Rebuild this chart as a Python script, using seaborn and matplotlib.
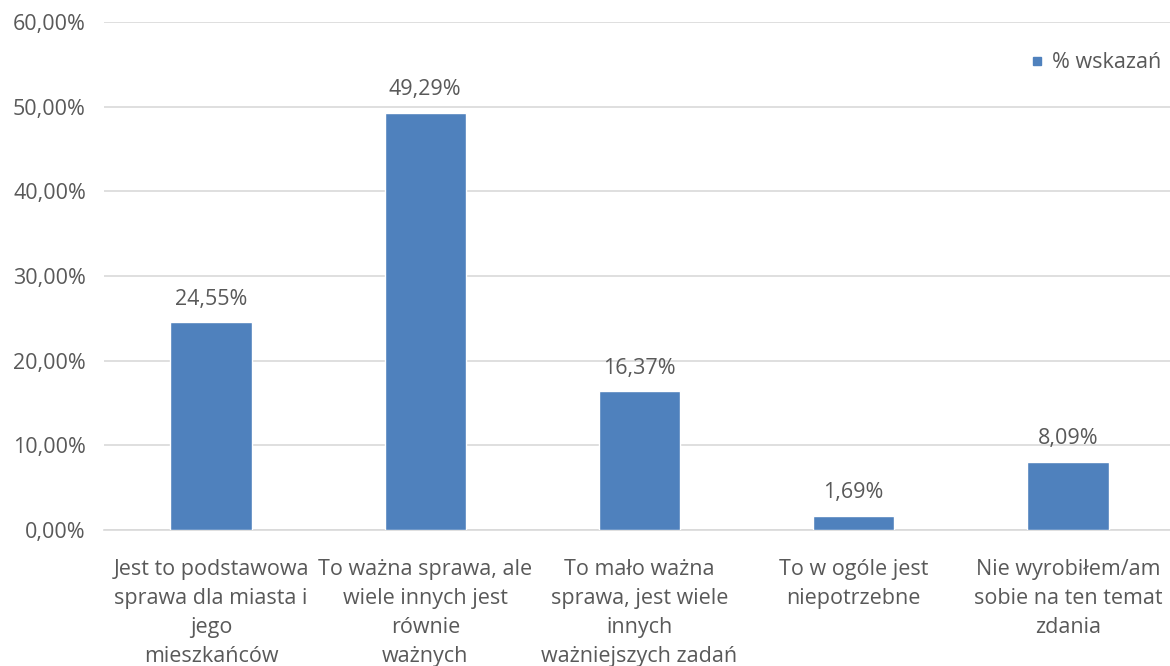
import matplotlib
matplotlib.use("Agg")
import matplotlib.pyplot as plt
from matplotlib.lines import Line2D
import seaborn as sns
import pandas as pd

# Survey answers and share of responses (%)
categories = [
    "Jest to podstawowa\nsprawa dla miasta i\njego\nmieszkańców",
    "To ważna sprawa, ale\nwiele innych jest\nrównie\nważnych",
    "To mało ważna\nsprawa, jest wiele\ninnych\nważniejszych zadań",
    "To w ogóle jest\nniepotrzebne",
    "Nie wyrobiłem/am\nsobie na ten temat\nzdania",
]
values = [24.55, 49.29, 16.37, 1.69, 8.09]
series_name = "% wskazań"
y_ticks = [0, 10, 20, 30, 40, 50, 60]

BAR = "#4f81bd"
TEXT = "#595959"
GRID = "#d9d9d9"
FS = 15.5

sns.set_theme(style="white")
plt.rcParams["font.family"] = ["Open Sans", "DejaVu Sans"]

df = pd.DataFrame({"cat": categories, "val": values})

fig = plt.figure(figsize=(11.7, 6.66), dpi=100)
ax = fig.add_axes([104 / 1170, 1 - 530 / 666, 1071 / 1170, (530 - 22) / 666])

sns.barplot(data=df, x="cat", y="val", color=BAR, width=0.38,
            saturation=1, ax=ax, zorder=3)

ax.set_ylim(0, 60)
ax.set_xlim(-0.5, len(categories) - 0.5)
ax.set_yticks(y_ticks)
ax.set_yticklabels([f"{t:.2f}".replace(".", ",") + "%" for t in y_ticks],
                   fontsize=FS, color=TEXT)
ax.yaxis.grid(True, color=GRID, linewidth=1.2, zorder=0)
ax.set_axisbelow(True)
ax.tick_params(axis="y", length=0, pad=13)

# category separators as tick marks below the axis
ax.set_xticks([i - 0.5 for i in range(len(categories) + 1)], minor=True)
ax.set_xticks(range(len(categories)))
ax.set_xticklabels(categories, fontsize=FS, color=TEXT, linespacing=1.5)
ax.tick_params(axis="x", which="major", length=0, pad=21)
ax.tick_params(axis="x", which="minor", length=7, width=1.2, color=GRID,
               direction="out")

for s in ["top", "right", "left"]:
    ax.spines[s].set_visible(False)
ax.spines["bottom"].set_color(GRID)
ax.spines["bottom"].set_linewidth(1.2)
ax.set_xlabel("")
ax.set_ylabel("")

for i, v in enumerate(values):
    ax.annotate(f"{v:.2f}".replace(".", ",") + "%", (i, v),
                xytext=(0, 9), textcoords="offset points",
                ha="center", va="bottom", fontsize=FS, color=TEXT)

handle = Line2D([], [], marker="s", linestyle="none", markersize=6,
                markerfacecolor=BAR, markeredgecolor=BAR)
fig.legend([handle], [series_name], loc="center left",
           bbox_to_anchor=(1026 / 1170, 1 - 63 / 666), frameon=False,
           fontsize=FS, labelcolor=TEXT, handletextpad=0.2,
           handlelength=1.0, borderaxespad=0, borderpad=0)

fig.savefig("out.png", dpi=100)
